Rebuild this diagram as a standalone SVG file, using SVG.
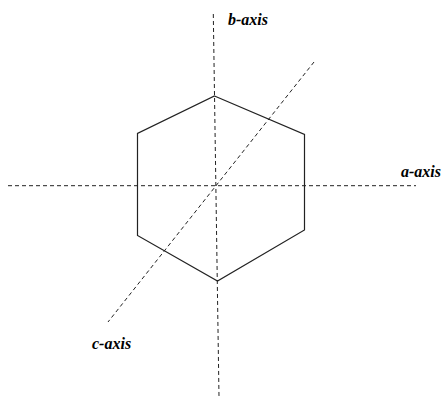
<svg xmlns="http://www.w3.org/2000/svg" width="444" height="403" viewBox="0 0 444 403">
<style>
.axis{stroke:#222;stroke-width:1;stroke-dasharray:4 3;fill:none}
.hex{stroke:#222;stroke-width:1.2;fill:none}
.lbl{font-family:"Liberation Serif",serif;font-style:italic;font-weight:bold;font-size:16px;fill:#000}
</style>
<rect width="444" height="403" fill="#fff"/>
<g id="hexagon">
<polygon class="hex" points="214.5,96 304.5,134.5 304.5,230 217.5,281 137.5,235.5 137.5,133.5"/>
</g>
<g id="connectors">
<line class="axis" x1="213.3" y1="14" x2="219" y2="397"/>
<line class="axis" x1="8" y1="185.7" x2="416" y2="185.7"/>
<line class="axis" x1="314" y1="62" x2="108" y2="322"/>
</g>
<g id="b-axis"><text class="lbl" x="228" y="25">b-axis</text></g>
<g id="a-axis"><text class="lbl" x="401" y="177">a-axis</text></g>
<g id="c-axis"><text class="lbl" x="92" y="349">c-axis</text></g>
</svg>
